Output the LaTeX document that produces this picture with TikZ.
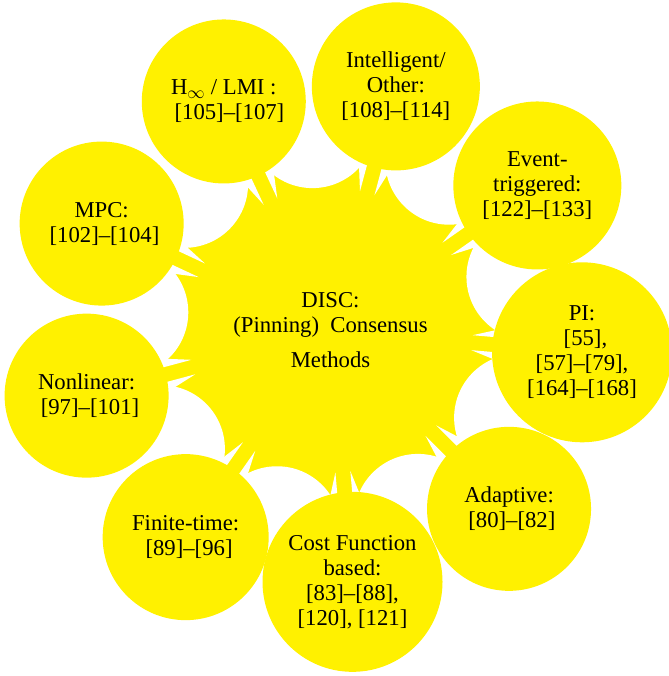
\documentclass[tikz,border=0pt]{standalone}
\usepackage{fontspec}
\setmainfont{Liberation Serif}
\definecolor{clusteryellow}{RGB}{255,241,0}
\begin{document}
\begin{tikzpicture}[x=1pt,y=1pt,
  blob/.style={fill=clusteryellow},
  gap/.style={fill=white},
  sat/.style={circle, fill=clusteryellow, inner sep=0pt, align=center,
    font=\fontsize{22.7}{25}\selectfont},
  hub/.style={align=center, font=\fontsize{22.7}{25}\selectfont}]
\useasboundingbox (-330.5,-345.7) rectangle (337.5,330.3);

% central hub: a disc carved by white discs between the necks
\fill[blob] (0,0) circle (180);
\foreach \a in {95,55,...,-225}
  \fill[gap] (\a:206.8) circle (63.8);
% thin slits along both sides of every neck
\foreach \a in {115,75,...,-205} {
  \fill[gap,rotate=\a] (142,7.5) -- (176,7.5) -- (176,18.1) -- cycle;
  \fill[gap,rotate=\a] (142,-7.5) -- (176,-7.5) -- (176,-18.1) -- cycle;
}

% satellites
\node[sat, minimum size=164pt] (hinf) at (115:252.5)
  {H$_\infty$\ / LMI :\\{}\hspace*{0.5em}[105]–[107]};
\node[sat, minimum size=168pt] (intel) at (75:252.5)
  {Intelligent/\\Other:\\{}[108]–[114]};
\node[sat, minimum size=168pt] (event) at (35:252.5)
  {Event-\\triggered:\\{}[122]–[133]};
\node[sat, minimum size=180pt] (pi) at (-5:252.5)
  {PI:\\{}\hspace*{0.3em}[55],\\{}[57]–[79],\\{}[164]–[168]};
\node[sat, minimum size=164pt] (adaptive) at (-45:252.5)
  {Adaptive:\\{}\hspace*{0.25em}[80]–[82]};
\node[sat, minimum size=180pt] (cost) at (-85:252.5)
  {Cost Function\\based:\\{}[83]–[88],\\{}[120], [121]};
\node[sat, minimum size=166pt] (finite) at (-125:252.5)
  {Finite-time:\\{}\hspace*{0.3em}[89]–[96]};
\node[sat, minimum size=164pt] (nonlinear) at (-165:252.5)
  {Nonlinear:\\{}\hspace*{0.3em}[97]–[101]};
\node[sat, minimum size=164pt] (mpc) at (155:252.5)
  {MPC:\\{}\hspace*{0.25em}[102]–[104]};

% hub label
\node[hub] (disc) at (0,0)
  {DISC:\\(Pinning)\ \ Consensus\\[10pt]Methods};
\end{tikzpicture}
\end{document}
